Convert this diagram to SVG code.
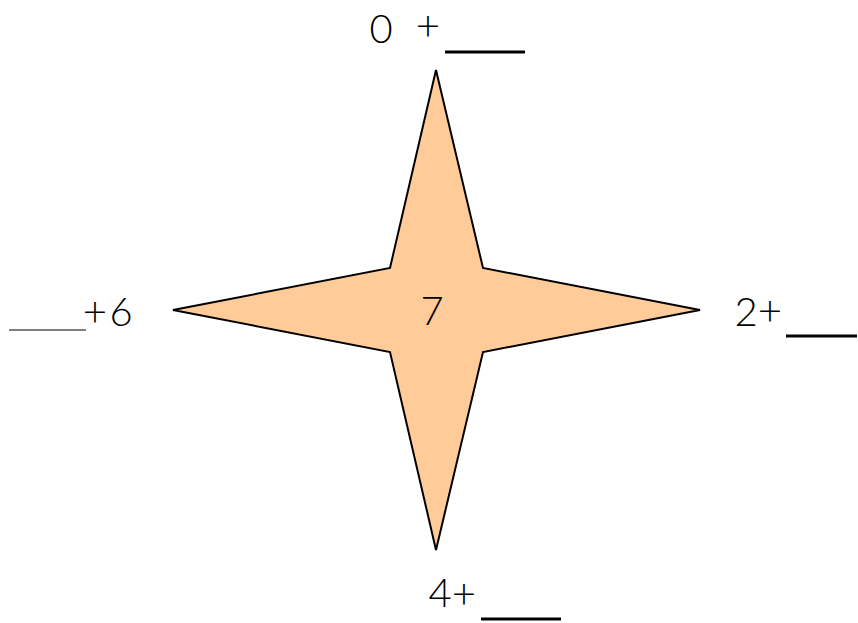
<svg xmlns="http://www.w3.org/2000/svg" width="858" height="623" viewBox="0 0 858 623">
<style>
.t{font-family:Lato,"Liberation Sans",sans-serif;font-weight:300;fill:#000}
.big{font-size:40px}
.pl{font-size:42px}
.u{stroke:#000;stroke-width:3}
</style>
<rect width="858" height="623" fill="#fff"/>
<g id="star">
<polygon points="436,70 483,268 700,310 483,352 436,550 390,352 173,310 390,268" fill="#ffcc99" stroke="#000" stroke-width="2" stroke-linejoin="miter"/>
<text class="t big" x="432" y="325" text-anchor="middle">7</text>
</g>
<g id="top">
<text class="t big" x="381" y="43" text-anchor="middle">0</text>
<text class="t pl" x="428" y="40" text-anchor="middle">+</text>
<line class="u" x1="445" y1="52" x2="525" y2="52"/>
</g>
<g id="left">
<line x1="9" y1="330" x2="86" y2="330" stroke="#000" stroke-width="1"/>
<text class="t pl" x="95" y="326" text-anchor="middle">+</text>
<text class="t big" x="121" y="326" text-anchor="middle">6</text>
</g>
<g id="right">
<text class="t big" x="746" y="326" text-anchor="middle">2</text>
<text class="t pl" x="770" y="325" text-anchor="middle">+</text>
<line class="u" x1="786" y1="336" x2="857" y2="336"/>
</g>
<g id="bottom">
<text class="t big" x="440" y="607" text-anchor="middle">4</text>
<text class="t pl" x="464" y="608" text-anchor="middle">+</text>
<line class="u" x1="481" y1="619" x2="561" y2="619"/>
</g>
</svg>
